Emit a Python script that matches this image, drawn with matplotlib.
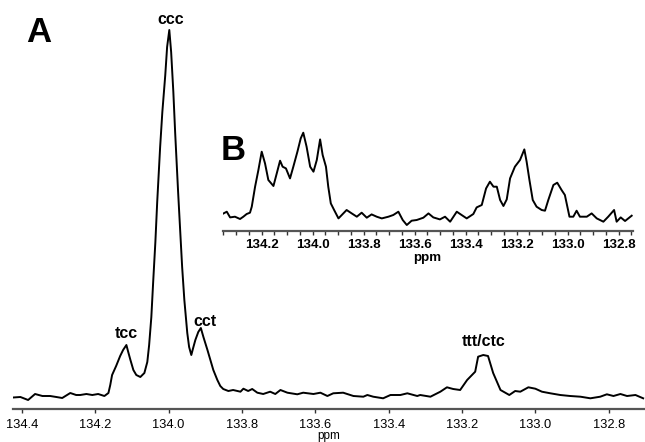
import matplotlib
matplotlib.use("Agg")
import matplotlib.pyplot as plt
from matplotlib.ticker import MultipleLocator

plt.rcParams['font.family'] = ['Liberation Sans', 'DejaVu Sans']

# main spectrum (A): ppm vs intensity (arb.)
ppm_a = [134.424, 134.404, 134.383, 134.364, 134.344, 134.323, 134.306, 134.290,
         134.268, 134.252, 134.241, 134.224, 134.208, 134.192, 134.175, 134.164,
         134.159, 134.154, 134.143, 134.132, 134.124, 134.115, 134.110, 134.104,
         134.096, 134.088, 134.077, 134.066, 134.058, 134.053, 134.047, 134.042,
         134.036, 134.031, 134.023, 134.017, 134.009, 134.004, 133.998, 133.993,
         133.987, 133.982, 133.974, 133.968, 133.963, 133.957, 133.949, 133.944,
         133.938, 133.933, 133.927, 133.919, 133.912, 133.905, 133.894, 133.886,
         133.878, 133.867, 133.859, 133.851, 133.837, 133.824, 133.804, 133.796,
         133.783, 133.772, 133.758, 133.742, 133.723, 133.709, 133.695, 133.676,
         133.649, 133.633, 133.605, 133.586, 133.567, 133.551, 133.524, 133.496,
         133.469, 133.458, 133.442, 133.415, 133.395, 133.368, 133.349, 133.322,
         133.314, 133.286, 133.259, 133.241, 133.224, 133.205, 133.186, 133.164,
         133.156, 133.142, 133.129, 133.115, 133.095, 133.071, 133.055, 133.041,
         133.019, 133.000, 132.982, 132.959, 132.932, 132.905, 132.877, 132.850,
         132.823, 132.805, 132.787, 132.768, 132.750, 132.727, 132.706]
int_a = [-0.5, 0, -3, 3, 1, 1, 0, -1,
         4, 2, 2, 3, 2, 3, 1, 4,
         12, 22, 31, 41, 47, 52, 45, 37,
         27, 22, 20, 24, 35, 52, 80, 115,
         155, 195, 250, 285, 322, 350, 367, 345,
         305, 264, 205, 164, 130, 97, 64, 50,
         42, 49, 57, 65, 69, 60, 47, 37,
         27, 17, 11, 8, 6, 7, 5.3, 8.3,
         6, 8, 4.3, 3, 5.3, 3, 7, 4.3,
         2.7, 4.3, 3, 4.3, 1, 3.7, 4.3, 1,
         0.3, 2, 0.3, -1.3, 2, 2, 3.7, 1,
         2, 0.3, 5.3, 9.7, 8, 7, 17, 25.3,
         40.3, 42, 41, 24, 7, 2, 6, 5.3,
         9.7, 8.3, 5.3, 3.7, 2, 1, 0.3, -1.3,
         0.3, 2.7, 1, 3, 1, 2, -1.3]

# inset spectrum (B)
ppm_b = [134.357, 134.337, 134.324, 134.305, 134.285, 134.272, 134.259, 134.246,
         134.239, 134.226, 134.213, 134.200, 134.187, 134.174, 134.154, 134.141,
         134.128, 134.118, 134.105, 134.089, 134.076, 134.060, 134.047, 134.037,
         134.024, 134.010, 133.997, 133.984, 133.971, 133.961, 133.948, 133.939,
         133.929, 133.916, 133.899, 133.886, 133.867, 133.847, 133.827, 133.808,
         133.788, 133.769, 133.749, 133.729, 133.703, 133.684, 133.664, 133.647,
         133.631, 133.612, 133.592, 133.566, 133.546, 133.527, 133.501, 133.481,
         133.461, 133.435, 133.416, 133.396, 133.370, 133.357, 133.337, 133.320,
         133.305, 133.291, 133.278, 133.265, 133.252, 133.239, 133.226, 133.207,
         133.187, 133.170, 133.161, 133.150, 133.137, 133.122, 133.102, 133.089,
         133.076, 133.056, 133.041, 133.024, 133.011, 132.993, 132.978, 132.965,
         132.952, 132.925, 132.906, 132.886, 132.860, 132.841, 132.818, 132.808,
         132.792, 132.775, 132.749]
int_b = [2.3, 5, -0.7, 0, -2.3, 0, 2.7, 4,
         10, 30, 46.7, 65, 53.3, 36.7, 30.7, 43.3,
         56, 50, 48.3, 38.3, 50, 65, 78.3, 84,
         70, 50, 45, 56.7, 77.3, 61.7, 50, 30,
         13.3, 6.7, -1.7, 1.7, 6.7, 3.3, 0, 4,
         -1, 2.3, 0, -1.7, 0, 1.7, 5, -3.3,
         -8.3, -4, -3.3, -1, 3.3, -0.7, -2.7, 0,
         -5, 5, 1.7, -1.7, 2.7, 9.3, 11.7, 28.3,
         35, 30, 30, 16.7, 10.7, 17.3, 38.3, 50,
         56.7, 67.3, 55, 36.7, 16.7, 10, 6.7, 6,
         16.7, 31.7, 34, 26.7, 21.7, 0, 0, 6,
         0, 0, 3.3, -1.7, -5, 0, 6.7, -5,
         -0.7, -4.3, 1]

peak_labels = ['tcc', 'ccc', 'cct', 'ttt/ctc']
peak_ppm = [134.115, 133.995, 133.902, 133.142]
peak_lab_y = [63, 377, 76, 55]

main_ticks = [134.4, 134.2, 134.0, 133.8, 133.6, 133.4, 133.2, 133.0, 132.8]
inset_ticks = [134.2, 134.0, 133.8, 133.6, 133.4, 133.2, 133.0, 132.8]

W, H = 645, 442
fig = plt.figure(figsize=(W / 100, H / 100), dpi=100)

def style_axis(ax, pad, size):
    for s in ['left', 'right', 'top']:
        ax.spines[s].set_visible(False)
    ax.spines['bottom'].set_color('#555555')
    ax.spines['bottom'].set_linewidth(1.6)
    ax.set_yticks([])
    ax.tick_params(axis='x', which='both', direction='out', length=3,
                   width=1, color='#333333', pad=pad, labelsize=size)
    ax.patch.set_alpha(0)

# main panel
ax = fig.add_axes([12.7 / W, (H - 409) / H, (W - 12.7) / W, 409 / H])
ax.plot(ppm_a, int_a, color='black', lw=1.4)
ax.set_xlim(134.425, 132.701)
ax.set_ylim(-12, 397)
ax.set_xticks(main_ticks)
ax.set_xticklabels(['%.1f' % t for t in main_ticks])
style_axis(ax, 4, 9.3)
ax.set_xlabel('ppm', fontsize=8.5, va='bottom')
ax.xaxis.set_label_coords(0.5, -32.5 / 409)
for lab, px, py in zip(peak_labels, peak_ppm, peak_lab_y):
    ax.text(px, py, lab, ha='center', va='center', fontsize=11.5,
            fontweight='bold')

# inset panel
axi = fig.add_axes([222.7 / W, (H - 231) / H, 410 / W, 111 / H])
axi.plot(ppm_b, int_b, color='black', lw=1.4)
axi.set_xlim(134.353, 132.745)
axi.set_ylim(-14.3, 96.7)
axi.set_xticks(inset_ticks)
axi.set_xticklabels(['%.1f' % t for t in inset_ticks])
axi.xaxis.set_minor_locator(MultipleLocator(0.05))
style_axis(axi, 2.5, 9.6)
for lab in axi.get_xticklabels():
    lab.set_fontweight('bold')
axi.set_xlabel('ppm', fontsize=9.6, fontweight='bold', labelpad=1)

fig.text(39 / W, 1 - 33 / H, 'A', fontsize=25, fontweight='bold',
         ha='center', va='center')
fig.text(233.5 / W, 1 - 150.5 / H, 'B', fontsize=25, fontweight='bold',
         ha='center', va='center')

fig.savefig('out.png', dpi=100)
